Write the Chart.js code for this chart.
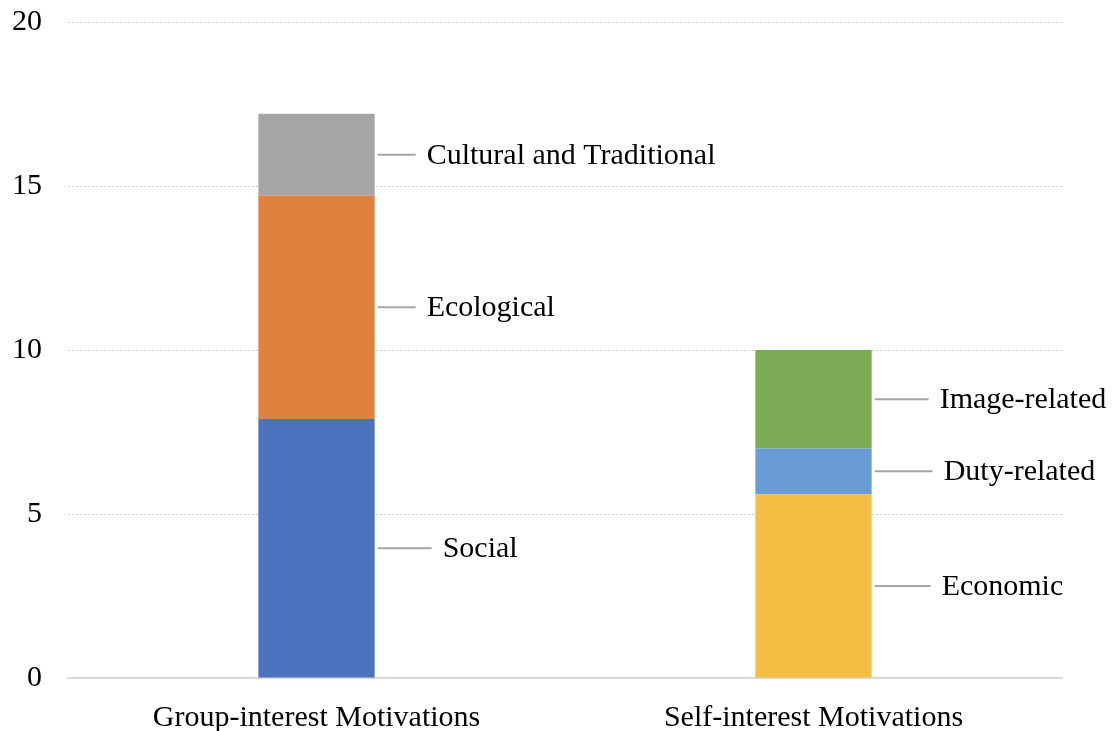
<!DOCTYPE html>
<html lang="en">
<head>
    <meta charset="UTF-8">
    <title>Group- and Self-interest Motivations</title>
    <script src="https://cdn.jsdelivr.net/npm/chart.js"></script>
    <style>
        * {
            margin: 0;
            padding: 0;
            box-sizing: border-box;
        }
        body {
            background: #fff;
            width: 1116px;
            height: 731px;
            overflow: hidden;
        }
        .chart-wrap {
            position: relative;
            width: 1116px;
            height: 731px;
        }
    </style>
</head>
<body>
    <div class="chart-wrap">
        <canvas id="motivationChart"></canvas>
    </div>

    <script>
        // Categories and stacked segments (bottom to top)
        const categories = ['Group-interest Motivations', 'Self-interest Motivations'];
        const groupLabels = ['Social', 'Ecological', 'Cultural and Traditional'];
        const groupValues = [7.9, 6.8, 2.5];
        const selfLabels = ['Economic', 'Duty-related', 'Image-related'];
        const selfValues = [5.6, 1.4, 3.0];
        const yTicks = [0, 5, 10, 15, 20];

        const groupColors = ['#4a72bf', '#e0823f', '#a5a5a5'];
        const selfColors = ['#f4be42', '#6a9bd3', '#7bab55'];
        // length of the leader line next to each segment
        const groupLeader = [54, 38, 38];
        const selfLeader = [56, 58, 54];

        const serif = "'Liberation Serif', 'Times New Roman', serif";
        const fontSize = 30;

        const datasets = [];
        groupLabels.forEach((name, i) => {
            datasets.push({
                label: name,
                data: [groupValues[i], null],
                backgroundColor: groupColors[i],
                leader: groupLeader[i]
            });
        });
        selfLabels.forEach((name, i) => {
            datasets.push({
                label: name,
                data: [null, selfValues[i]],
                backgroundColor: selfColors[i],
                leader: selfLeader[i]
            });
        });

        // Leader lines and segment names to the right of each bar
        const segmentLabels = {
            id: 'segmentLabels',
            afterDatasetsDraw(chart) {
                const ctx = chart.ctx;
                ctx.save();
                ctx.font = fontSize + 'px ' + serif;
                ctx.textAlign = 'left';
                ctx.textBaseline = 'middle';
                chart.data.datasets.forEach((ds, di) => {
                    const meta = chart.getDatasetMeta(di);
                    ds.data.forEach((v, idx) => {
                        if (v === null) return;
                        const bar = meta.data[idx];
                        const p = bar.getProps(['x', 'y', 'base', 'width'], true);
                        const x0 = p.x + p.width / 2 + 3;
                        const x1 = x0 + ds.leader;
                        const yMid = (p.y + p.base) / 2;
                        ctx.strokeStyle = '#a6a6a6';
                        ctx.lineWidth = 2;
                        ctx.beginPath();
                        ctx.moveTo(x0, yMid);
                        ctx.lineTo(x1, yMid);
                        ctx.stroke();
                        ctx.fillStyle = '#000';
                        ctx.fillText(ds.label, x1 + 11, yMid + 1);
                    });
                });
                ctx.restore();
            }
        };

        const ctx = document.getElementById('motivationChart').getContext('2d');
        new Chart(ctx, {
            type: 'bar',
            data: {
                labels: categories,
                datasets: datasets
            },
            options: {
                responsive: true,
                maintainAspectRatio: false,
                animation: false,
                layout: {
                    padding: { top: 22, right: 54, bottom: 0, left: 0 }
                },
                datasets: {
                    bar: {
                        categoryPercentage: 1,
                        barPercentage: 0.234,
                        skipNull: true
                    }
                },
                plugins: {
                    legend: { display: false },
                    tooltip: { enabled: false }
                },
                scales: {
                    x: {
                        stacked: true,
                        grid: { display: false, drawTicks: false },
                        border: { display: true, color: '#d9d9d9', width: 2 },
                        ticks: {
                            color: '#000',
                            font: { family: serif, size: fontSize },
                            padding: 22,
                            maxRotation: 0
                        },
                        afterFit(scale) {
                            scale.height = 53;
                            scale.paddingLeft = 0;
                            scale.paddingRight = 0;
                        }
                    },
                    y: {
                        stacked: true,
                        min: yTicks[0],
                        max: yTicks[yTicks.length - 1],
                        afterBuildTicks(scale) {
                            scale.ticks = yTicks.map(v => ({ value: v }));
                        },
                        grid: { color: '#cfcfcf', lineWidth: 1, drawTicks: false },
                        border: { display: false, dash: [2, 2] },
                        ticks: {
                            color: '#000',
                            font: { family: serif, size: fontSize },
                            padding: 26
                        },
                        afterFit(scale) {
                            scale.width = 68;
                            scale.paddingTop = 0;
                            scale.paddingBottom = 0;
                        }
                    }
                }
            },
            plugins: [segmentLabels]
        });
    </script>
</body>
</html>
